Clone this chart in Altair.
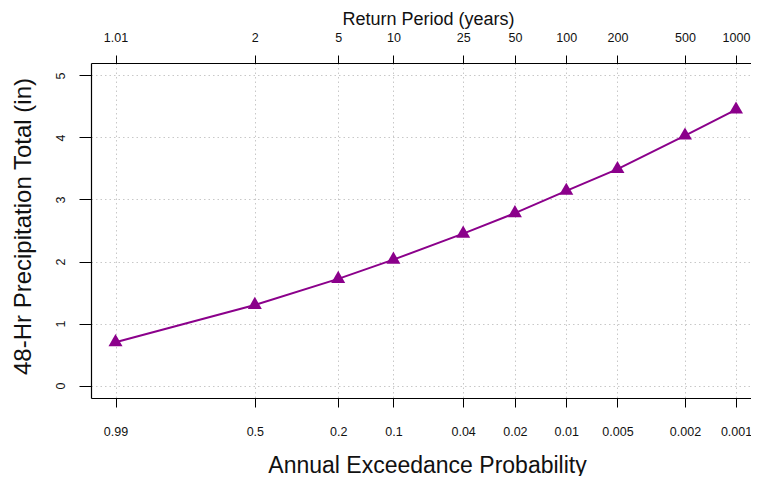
import math
import altair as alt
import pandas as pd

# ---- data ----
aep = [0.99, 0.5, 0.2, 0.1, 0.04, 0.02, 0.01, 0.005, 0.002, 0.001]
precip = [0.70, 1.30, 1.72, 2.03, 2.45, 2.78, 3.14, 3.49, 4.03, 4.45]
aep_labels = ["0.99", "0.5", "0.2", "0.1", "0.04", "0.02", "0.01", "0.005", "0.002", "0.001"]
rp_labels = ["1.01", "2", "5", "10", "25", "50", "100", "200", "500", "1000"]
y_ticks = [0, 1, 2, 3, 4, 5]

PURPLE = "#8B008B"
FONT = "Liberation Sans"


def gumbel(p):
    # Gumbel reduced variate used for the probability axis
    return -math.log(-math.log(1.0 - p))


tick_pos = [gumbel(p) for p in aep]
tick_keys = [round(v * 1000) for v in tick_pos]


def label_expr(labels):
    keys = ",".join(str(k) for k in tick_keys)
    labs = ",".join("'" + s + "'" for s in labels)
    return f"[{labs}][indexof([{keys}], round(datum.value * 1000))]"


df = pd.DataFrame({"aep": aep, "precip": precip})

x_scale = alt.Scale(domain=[-1.8602, 7.1109], nice=False, zero=False)
y_scale = alt.Scale(domain=[-0.2, 5.2], nice=False, zero=False)

base = alt.Chart(df).transform_calculate(u="-log(-log(1 - datum.aep))")

line = base.mark_line(color=PURPLE, strokeWidth=2).encode(
    x=alt.X(
        "u:Q",
        scale=x_scale,
        axis=alt.Axis(
            orient="bottom",
            values=tick_pos,
            labelExpr=label_expr(aep_labels),
            title="Annual Exceedance Probability",
            grid=True,
            gridColor="#c8c8c8",
            gridDash=[1.5, 3],
            gridWidth=1,
            domainColor="#000000",
            domainWidth=1.2,
            tickColor="#000000",
            tickSize=9,
            tickWidth=1,
            labelFont=FONT,
            labelFontSize=12.5,
            labelColor="#111111",
            labelBaseline="alphabetic",
            labelPadding=28,
            labelFlush=False,
            labelOverlap=False,
            titleFont=FONT,
            titleFontSize=23,
            titleFontWeight="normal",
            titleColor="#111111",
            titleX=336,
            titleY=74,
            titleBaseline="alphabetic",
            titleAlign="center",
        ),
    ),
    y=alt.Y(
        "precip:Q",
        scale=y_scale,
        axis=alt.Axis(
            orient="left",
            values=y_ticks,
            title="48-Hr Precipitation Total (in)",
            grid=True,
            gridColor="#c8c8c8",
            gridDash=[1.5, 3],
            gridWidth=1,
            domainColor="#000000",
            domainWidth=1.2,
            tickColor="#000000",
            tickSize=12,
            tickWidth=1,
            labelFont=FONT,
            labelFontSize=12.5,
            labelColor="#111111",
            labelAngle=270,
            labelAlign="center",
            labelBaseline="alphabetic",
            labelPadding=15,
            labelFlush=False,
            titleFont=FONT,
            titleFontSize=24,
            titleFontWeight="normal",
            titleColor="#111111",
            titleAngle=270,
            titleX=-61,
            titleY=163,
            titleBaseline="alphabetic",
            titleAlign="center",
        ),
    ),
)

points = base.mark_point(
    shape="M0,-1.155L1,0.577L-1,0.577Z",
    filled=True,
    size=196,
    color=PURPLE,
    opacity=1,
).encode(
    x=alt.X(
        "u:Q",
        scale=x_scale,
        axis=alt.Axis(
            orient="top",
            values=tick_pos,
            labelExpr=label_expr(rp_labels),
            title="Return Period (years)",
            grid=False,
            domainColor="#000000",
            domainWidth=1.2,
            tickColor="#000000",
            tickSize=8,
            tickWidth=1,
            labelFont=FONT,
            labelFontSize=12.5,
            labelColor="#111111",
            labelBaseline="alphabetic",
            labelPadding=14,
            labelFlush=False,
            labelOverlap=False,
            titleFont=FONT,
            titleFontSize=18,
            titleFontWeight="normal",
            titleColor="#111111",
            titleX=337,
            titleY=-39,
            titleBaseline="alphabetic",
            titleAlign="center",
        ),
    ),
    y=alt.Y("precip:Q", scale=y_scale, axis=None),
)

chart = (
    alt.layer(line, points)
    .resolve_axis(x="independent", y="independent")
    .properties(
        width=660,
        height=335,
        autosize=alt.AutoSizeParams(type="none"),
        padding={"left": 83, "top": 55, "right": 0, "bottom": 78},
        background="white",
    )
    .configure_view(stroke=None)
)

chart.save("out.html", embed_options={"renderer": "svg", "actions": False})
